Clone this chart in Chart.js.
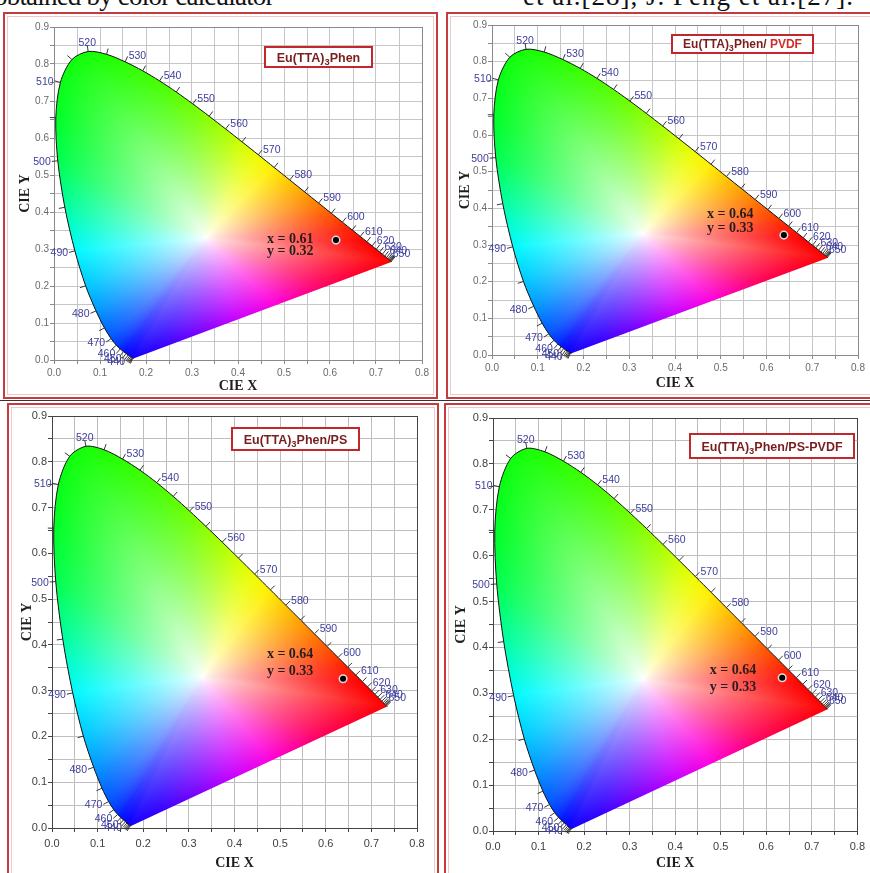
<!DOCTYPE html>
<html><head><meta charset="utf-8">
<script src="https://cdn.jsdelivr.net/npm/chart.js@4.4.1/dist/chart.umd.min.js"></script>
<style>
html,body{margin:0;padding:0;background:#fff;width:870px;height:873px;overflow:hidden;position:relative;}
.cap{position:absolute;top:-17px;font:27px/27px 'Liberation Serif','Times New Roman',serif;color:#111;white-space:nowrap;}
.frame{position:absolute;border:2px solid #c23c40;box-sizing:border-box;}
.frame::after{content:'';position:absolute;left:2px;top:2px;right:2px;bottom:2px;border:1px solid #f1c9c9;}
.sep{position:absolute;left:0;width:870px;top:400px;height:1px;background:#333;}
canvas{position:absolute;}
</style></head><body>
<div class="cap" style="left:-6px;letter-spacing:-0.8px">obtained by color calculator</div>
<div class="cap" style="left:523px;letter-spacing:1px">et al.[28], J. Peng et al.[27].</div>
<div class="frame" style="left:3px;top:12px;width:435px;height:387px"></div>
<div class="frame" style="left:446px;top:12px;width:430px;height:387px"></div>
<div class="sep"></div>
<div class="frame" style="left:7px;top:403px;width:432px;height:480px"></div>
<div class="frame" style="left:444px;top:403px;width:432px;height:480px"></div>
<script>
// ---- CIE 1931 spectral locus (chromaticity x, y) ----
const wavelengths = [380,385,390,395,400,405,410,415,420,425,430,435,440,445,450,455,460,465,470,475,480,485,490,495,500,505,510,515,520,525,530,535,540,545,550,555,560,565,570,575,580,585,590,595,600,605,610,615,620,625,630,635,640,645,650,655,660,665,670,680,690,700];
const locusX = [0.1741,0.1740,0.1738,0.1736,0.1733,0.1730,0.1726,0.1721,0.1714,0.1703,0.1689,0.1669,0.1644,0.1611,0.1566,0.1510,0.1440,0.1355,0.1241,0.1096,0.0913,0.0687,0.0454,0.0235,0.0082,0.0039,0.0139,0.0389,0.0743,0.1142,0.1547,0.1929,0.2296,0.2658,0.3016,0.3373,0.3731,0.4087,0.4441,0.4788,0.5125,0.5448,0.5752,0.6029,0.6270,0.6482,0.6658,0.6801,0.6915,0.7006,0.7079,0.7140,0.7190,0.7230,0.7260,0.7283,0.7300,0.7311,0.7320,0.7334,0.7344,0.7347];
const locusY = [0.0050,0.0050,0.0049,0.0049,0.0048,0.0048,0.0048,0.0048,0.0051,0.0058,0.0069,0.0086,0.0109,0.0138,0.0177,0.0227,0.0297,0.0399,0.0578,0.0868,0.1327,0.2007,0.2950,0.4127,0.5384,0.6548,0.7502,0.8120,0.8338,0.8262,0.8059,0.7816,0.7543,0.7243,0.6923,0.6589,0.6245,0.5896,0.5547,0.5202,0.4866,0.4544,0.4242,0.3965,0.3725,0.3514,0.3340,0.3197,0.3083,0.2993,0.2920,0.2859,0.2809,0.2770,0.2740,0.2717,0.2700,0.2689,0.2680,0.2666,0.2656,0.2653];
const tickWavelengths = [420,425,430,435,440,445,450,455,460,465,470,475,480,485,490,495,500,505,510,515,520,525,530,535,540,545,550,555,560,565,570,575,580,585,590,595,600,605,610,615,620,625,630,635,640,645,650,655,660,665,670,680];
const labelWavelengths = [440,450,460,470,480,490,500,510,520,530,540,550,560,570,580,590,600,610,620,630,640,650];

// ---- samples (one per panel) ----
const sampleTitles = [
  [['Eu(TTA)',0],['3',1],['Phen',0]],
  [['Eu(TTA)',0],['3',1],['Phen/ ',0],['PVDF',2]],
  [['Eu(TTA)',0],['3',1],['Phen/PS',0]],
  [['Eu(TTA)',0],['3',1],['Phen/PS-PVDF',0]]
];
const sampleX = [0.613, 0.638, 0.638, 0.635];
const sampleY = [0.324, 0.327, 0.326, 0.334];
const sampleTextX = ['x = 0.61', 'x = 0.64', 'x = 0.64', 'x = 0.64'];
const sampleTextY = ['y = 0.32', 'y = 0.33', 'y = 0.33', 'y = 0.33'];

// ---- axes ----
const xMin = 0, xMax = 0.8, yMin = 0, yMax = 0.9;
const gridStep = 0.05;
const xGrid = [], yGrid = [];
for (let i = 0; i <= 16; i++) xGrid.push(+(i * gridStep).toFixed(2));
for (let i = 0; i <= 18; i++) yGrid.push(+(i * gridStep).toFixed(2));

// ---- styling: display colours along the boundary ----
const edgeWl  = [380, 440, 455, 465, 475, 481, 486, 490, 493, 496, 500, 505, 512, 525, 540, 550, 560, 568, 574, 580, 588, 596, 605, 615, 700];
const edgeRGB = [[20,0,255],[10,0,255],[0,20,255],[0,60,255],[0,110,255],[0,160,255],[0,210,255],[0,250,255],[0,255,210],[0,255,140],[0,255,80],[0,255,40],[10,255,15],[30,255,0],[70,255,0],[110,255,0],[170,255,0],[230,255,0],[255,245,0],[255,200,0],[255,140,0],[255,80,0],[255,30,0],[255,0,0],[255,0,0]];
const purpleFrac = [0, 0.25, 0.45, 0.6, 0.75, 0.9, 1];
const purpleRGB  = [[255,0,0],[255,0,90],[255,0,220],[200,0,255],[120,0,255],[50,0,255],[20,0,255]];
const whitePoint = [0.33, 0.33];
const satPower = 0.8;

// ---- layout of the four panels (pixels) ----
const panels = [
  {left:9,  top:15,  w:426, h:380, padTop:12, padRight:13, yw:45, xh:35, xtb:0,   ytp:7.6, tickFont:10, tickColor:'#6a6a6a', grid:'#c6c6c6', edge:'#8a8a8a', box:[256,32,107,20], boxFont:12.5, annX:0.463, annY:0.327, annGap:12},
  {left:449, top:15, w:421, h:380, padTop:10, padRight:12, yw:43, xh:40, xtb:3.6, ytp:7.6, tickFont:10, tickColor:'#6a6a6a', grid:'#c6c6c6', edge:'#8a8a8a', box:[223,20,141,18], boxFont:12, annX:0.470, annY:0.384, annGap:14.5},
  {left:10, top:407, w:426, h:466, padTop:9, padRight:19, yw:42, xh:45, xtb:1.6, ytp:8.6, tickFont:11, tickColor:'#404040', grid:'#bdbdbd', edge:'#444', box:[222,21,127,22], boxFont:12.5, annX:0.471, annY:0.380, annGap:17},
  {left:448, top:407, w:422, h:466, padTop:11, padRight:12, yw:45, xh:42, xtb:1.6, ytp:4.6, tickFont:11, tickColor:'#404040', grid:'#bdbdbd', edge:'#444', box:[242,27,164,24], boxFont:12.5, annX:0.476, annY:0.351, annGap:17}
];

function lerpTable(keys, vals, k){
  if (k <= keys[0]) return vals[0].slice();
  for (let i = 1; i < keys.length; i++) {
    if (k <= keys[i]) {
      const f = (k - keys[i-1]) / (keys[i] - keys[i-1]);
      return vals[i].map((v, c) => vals[i-1][c] + (v - vals[i-1][c]) * f);
    }
  }
  return vals[vals.length-1].slice();
}

// boundary polygon with colours (spectral locus + subdivided purple line)
const boundary = [];
wavelengths.forEach((wl, i) => boundary.push({x: locusX[i], y: locusY[i], c: lerpTable(edgeWl, edgeRGB, wl)}));
(function(){
  const n = locusX.length - 1;
  const ax = locusX[n], ay = locusY[n], bx = locusX[0], by = locusY[0];
  for (let k = 1; k < 40; k++) {
    const f = k / 40;
    boundary.push({x: ax + (bx-ax)*f, y: ay + (by-ay)*f, c: lerpTable(purpleFrac, purpleRGB, f)});
  }
})();

// angular lookup: boundary distance and colour seen from the white point
const NBIN = 3600;
const binDist = new Float32Array(NBIN);
const binCol = new Float32Array(NBIN*3);
(function(){
  const [wx, wy] = whitePoint;
  const m = boundary.length;
  for (let b = 0; b < NBIN; b++) {
    const th = -Math.PI + (b + 0.5) / NBIN * 2 * Math.PI;
    const dx = Math.cos(th), dy = Math.sin(th);
    let best = Infinity, col = [255,255,255];
    for (let i = 0; i < m; i++) {
      const A = boundary[i], B = boundary[(i+1) % m];
      const ex = B.x - A.x, ey = B.y - A.y;
      const den = dx*ey - dy*ex;
      if (Math.abs(den) < 1e-12) continue;
      const qx = A.x - wx, qy = A.y - wy;
      const s = (qx*ey - qy*ex) / den;
      const u = (qx*dy - qy*dx) / den;
      if (s > 0 && u >= 0 && u <= 1 && s < best) {
        best = s;
        col = A.c.map((v, c) => v + (B.c[c] - v) * u);
      }
    }
    binDist[b] = best;
    binCol[b*3] = col[0]; binCol[b*3+1] = col[1]; binCol[b*3+2] = col[2];
  }
})();

function locusPath(chart, ctx){
  const meta = chart.getDatasetMeta(0);
  ctx.beginPath();
  if (meta.dataset && typeof meta.dataset.path === 'function') {
    meta.dataset.path(ctx);
  } else {
    const xs = chart.scales.x, ys = chart.scales.y;
    locusX.forEach((v, i) => {
      const px = xs.getPixelForValue(v), py = ys.getPixelForValue(locusY[i]);
      i ? ctx.lineTo(px, py) : ctx.moveTo(px, py);
    });
  }
  ctx.closePath();
}

const cieFill = {
  id: 'cieFill',
  beforeDatasetsDraw(chart){
    const {ctx, chartArea:{left, top, right, bottom}, scales:{x, y}} = chart;
    const w = Math.ceil(right - left), h = Math.ceil(bottom - top);
    const off = document.createElement('canvas');
    off.width = w; off.height = h;
    const octx = off.getContext('2d');
    const img = octx.createImageData(w, h);
    const d = img.data;
    const [wx, wy] = whitePoint;
    for (let j = 0; j < h; j++) {
      const yv = y.getValueForPixel(top + j + 0.5);
      for (let i = 0; i < w; i++) {
        const xv = x.getValueForPixel(left + i + 0.5);
        const k = (j*w + i)*4;
        const dx = xv - wx, dy = yv - wy;
        let b = Math.floor((Math.atan2(dy, dx) + Math.PI) / (2*Math.PI) * NBIN);
        if (b >= NBIN) b = NBIN - 1; if (b < 0) b = 0;
        let t = Math.hypot(dx, dy) / binDist[b];
        if (t > 1) t = 1;
        const f = Math.pow(t, satPower);
        d[k]   = 255 + (binCol[b*3]   - 255) * f;
        d[k+1] = 255 + (binCol[b*3+1] - 255) * f;
        d[k+2] = 255 + (binCol[b*3+2] - 255) * f;
        d[k+3] = 255;
      }
    }
    octx.putImageData(img, 0, 0);
    ctx.save();
    locusPath(chart, ctx);
    ctx.clip();
    ctx.drawImage(off, left, top);
    ctx.restore();
  }
};

function drawTitleBox(ctx, P, segs){
  const [bx, by, bw, bh] = P.box;
  ctx.save();
  ctx.fillStyle = '#fff';
  ctx.fillRect(bx, by, bw, bh);
  ctx.strokeStyle = '#c0282d';
  ctx.lineWidth = 2;
  ctx.strokeRect(bx, by, bw, bh);
  const main = 'bold ' + P.boxFont + 'px "Liberation Sans", Arial, sans-serif';
  const sub = 'bold ' + (P.boxFont*0.75).toFixed(1) + 'px "Liberation Sans", Arial, sans-serif';
  let total = 0;
  segs.forEach(s => { ctx.font = s[1] === 1 ? sub : main; total += ctx.measureText(s[0]).width; });
  let cx = bx + (bw - total)/2;
  const base = by + bh/2 + P.boxFont*0.36;
  ctx.textBaseline = 'alphabetic';
  ctx.textAlign = 'left';
  segs.forEach(s => {
    ctx.font = s[1] === 1 ? sub : main;
    ctx.fillStyle = s[1] === 2 ? '#d42b2b' : '#7a1d1d';
    ctx.fillText(s[0], cx, base + (s[1] === 1 ? 3 : 0));
    cx += ctx.measureText(s[0]).width;
  });
  ctx.restore();
}

function makeMarks(pi){
  return {
    id: 'cieMarks' + pi,
    afterDatasetsDraw(chart){
      const P = panels[pi];
      const {ctx, scales:{x, y}} = chart;
      const px = i => x.getPixelForValue(locusX[i]);
      const py = i => y.getPixelForValue(locusY[i]);
      const normal = i => {
        const a = Math.max(0, i-1), b = Math.min(locusX.length-1, i+1);
        const dx = px(b) - px(a), dy = py(b) - py(a);
        const L = Math.hypot(dx, dy) || 1;
        return [dy/L, -dx/L];
      };
      ctx.save();
      ctx.strokeStyle = '#222';
      ctx.lineWidth = 0.9;
      const tl = 6;
      tickWavelengths.forEach(wl => {
        const i = wavelengths.indexOf(wl);
        const n = normal(i);
        ctx.beginPath();
        ctx.moveTo(px(i), py(i));
        ctx.lineTo(px(i) + n[0]*tl, py(i) + n[1]*tl);
        ctx.stroke();
      });
      ctx.font = '10.5px "Liberation Sans", Arial, sans-serif';
      ctx.fillStyle = '#3d3d9c';
      labelWavelengths.forEach(wl => {
        const i = wavelengths.indexOf(wl);
        const n = normal(i);
        const ex = px(i) + n[0]*tl, ey = py(i) + n[1]*tl;
        if (n[0] > 0.35) { ctx.textAlign = 'left'; ctx.textBaseline = 'middle'; ctx.fillText(String(wl), ex + 1, ey); }
        else if (n[0] < -0.35) { ctx.textAlign = 'right'; ctx.textBaseline = 'middle'; ctx.fillText(String(wl), ex - 1, ey + 1); }
        else { ctx.textAlign = 'center'; ctx.textBaseline = 'bottom'; ctx.fillText(String(wl), ex, ey + 3); }
      });
      ctx.font = 'bold 14px "Liberation Serif", "Times New Roman", serif';
      ctx.fillStyle = '#2a1c1c';
      ctx.textAlign = 'left';
      ctx.textBaseline = 'middle';
      const ax = x.getPixelForValue(P.annX), ay = y.getPixelForValue(P.annY);
      ctx.fillText(sampleTextX[pi], ax, ay);
      ctx.fillText(sampleTextY[pi], ax, ay + P.annGap);
      ctx.restore();
      drawTitleBox(ctx, P, sampleTitles[pi]);
    }
  };
}

panels.forEach((P, pi) => {
  const cv = document.createElement('canvas');
  cv.width = P.w; cv.height = P.h;
  cv.style.left = P.left + 'px'; cv.style.top = P.top + 'px';
  cv.style.width = P.w + 'px'; cv.style.height = P.h + 'px';
  document.body.appendChild(cv);
  const locusPts = locusX.map((v, i) => ({x: v, y: locusY[i]}));
  const tickFont = {family: '"Liberation Sans", Arial, sans-serif', size: P.tickFont};
  const titleFont = {family: '"Liberation Serif", "Times New Roman", serif', size: 14, weight: 'bold'};
  const gridColor = (max) => (c) => (c.tick && Math.abs(c.tick.value - max) < 1e-6) ? P.edge : P.grid;
  new Chart(cv, {
    type: 'scatter',
    data: {datasets: [
      {data: locusPts, showLine: true, borderColor: '#111', borderWidth: 1, pointRadius: 0, tension: 0.3, fill: false, order: 2},
      {data: [{x: sampleX[pi], y: sampleY[pi]}], pointRadius: 3.8, pointBackgroundColor: '#000', pointBorderColor: '#dcdcdc', pointBorderWidth: 1.5, order: 1}
    ]},
    options: {
      responsive: false, animation: false, events: [],
      layout: {padding: {left: 0, top: P.padTop, right: P.padRight, bottom: 0}},
      plugins: {legend: {display: false}, tooltip: {enabled: false}},
      scales: {
        x: {
          type: 'linear', min: xMin, max: xMax,
          afterBuildTicks: s => { s.ticks = xGrid.map(v => ({value: v})); },
          afterFit: s => { s.height = P.xh; },
          ticks: {autoSkip: false, maxRotation: 0, font: tickFont, color: P.tickColor, padding: pi < 2 ? 3 : 5,
                  callback: v => (Math.round(v*20) % 2 === 0) ? v.toFixed(1) : ''},
          grid: {color: gridColor(xMax), tickLength: 4, tickColor: P.edge, lineWidth: 1},
          border: {color: P.edge, width: 1},
          title: {display: true, text: 'CIE X', font: titleFont, color: '#1e1e1e', padding: {top: 0, bottom: P.xtb}}
        },
        y: {
          type: 'linear', min: yMin, max: yMax,
          afterBuildTicks: s => { s.ticks = yGrid.map(v => ({value: v})); },
          afterFit: s => { s.width = P.yw; },
          ticks: {autoSkip: false, font: tickFont, color: P.tickColor, padding: 1,
                  callback: v => (Math.round(v*20) % 2 === 0) ? v.toFixed(1) : ''},
          grid: {color: gridColor(yMax), tickLength: 4, tickColor: P.edge, lineWidth: 1},
          border: {color: P.edge, width: 1},
          title: {display: true, text: 'CIE Y', font: titleFont, color: '#1e1e1e', padding: {top: P.ytp, bottom: 0}}
        }
      }
    },
    plugins: [cieFill, makeMarks(pi)]
  });
});
</script>
</body></html>
